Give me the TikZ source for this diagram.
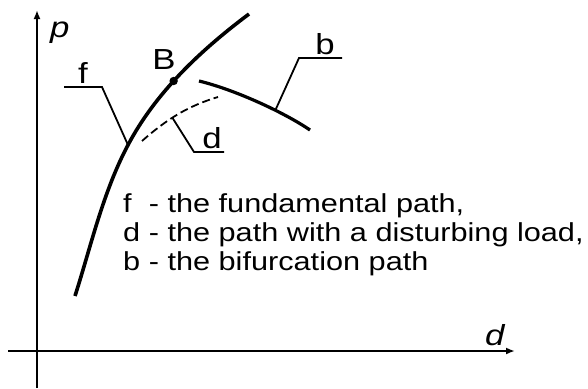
\documentclass[tikz,border=0pt]{standalone}
\usepackage{fontspec}
\setmainfont{Liberation Sans}
\newfontfamily\widefont[FakeStretch=1.18]{Liberation Sans}
\newfontfamily\lblfont[FakeStretch=1.2]{Liberation Sans}
\usetikzlibrary{arrows.meta}
\begin{document}
\begin{tikzpicture}[x=1pt,y=-1pt,
  axis/.style={line width=2.6pt,-{Latex[length=9pt,width=7pt]}},
  pathf/.style={line width=3.6pt},
  pathb/.style={line width=3.2pt},
  pathd/.style={line width=1.8pt,dash pattern=on 8pt off 4pt},
  leader/.style={line width=1.8pt},
  lbl/.style={font=\lblfont\fontsize{29}{34}\selectfont,anchor=base,inner sep=0pt},
  axlbl/.style={font=\lblfont\fontsize{29}{34}\selectfont\itshape,anchor=base west,inner sep=0pt},
  legend/.style={font=\widefont\fontsize{26}{30}\selectfont,anchor=base west,inner sep=0pt}]
\useasboundingbox (0,0) rectangle (588,388);
% axes
\coordinate (O1) at (37,388);
\coordinate (P1) at (37,10);
\coordinate (O2) at (8,351);
\coordinate (D1) at (515,351);
\draw[axis] (O1) -- (P1);
\draw[axis] (O2) -- (D1);
\node[axlbl] (plab) at (50,37) {p};
\node[axlbl] (dlab) at (485,345) {d};
% fundamental path
\coordinate (Fa) at (75,296);
\coordinate (Fc) at (128,145);
\coordinate (Fe) at (249,14);
\draw[pathf] (Fa) .. controls (91,246) and (103,192) .. (Fc)
  .. controls (156,92) and (201,50) .. coordinate[pos=0.44] (B) (Fe);
\fill (B) circle (4.2pt);
\node[lbl] (Blab) at (164,69) {B};
% disturbed path
\coordinate (Da) at (142,141);
\coordinate (Dc) at (218,97);
\draw[pathd] (Da) .. controls (167,119) and (188,106) .. coordinate[pos=0.42] (Db) (Dc);
% bifurcation path
\coordinate (Ba) at (199,81);
\coordinate (Bc) at (310,130);
\draw[pathb] (Ba) .. controls (236,90) and (285,113) .. coordinate[pos=0.64] (Bb) (Bc);
% leaders
\coordinate (fl1) at (64,87);
\coordinate (fl2) at (102,87);
\draw[leader] (fl1) -- (fl2) -- (Fc);
\node[lbl] (flab) at (83,83) {f};
\coordinate (dl1) at (194,152);
\coordinate (dl2) at (224,152);
\draw[leader] (Db) -- (dl1) -- (dl2);
\node[lbl] (dleg) at (212,148) {d};
\coordinate (bl1) at (299,58);
\coordinate (bl2) at (342,58);
\draw[leader] (Bb) -- (bl1) -- (bl2);
\node[lbl] (blab) at (325,54) {b};
% legend
\node[legend] (L1) at (123,212) {\rlap{f}\phantom{d} - the fundamental path,};
\node[legend] (L2) at (123,241) {d - the path with a disturbing load,};
\node[legend] (L3) at (123,270) {b - the bifurcation path};
\end{tikzpicture}
\end{document}
